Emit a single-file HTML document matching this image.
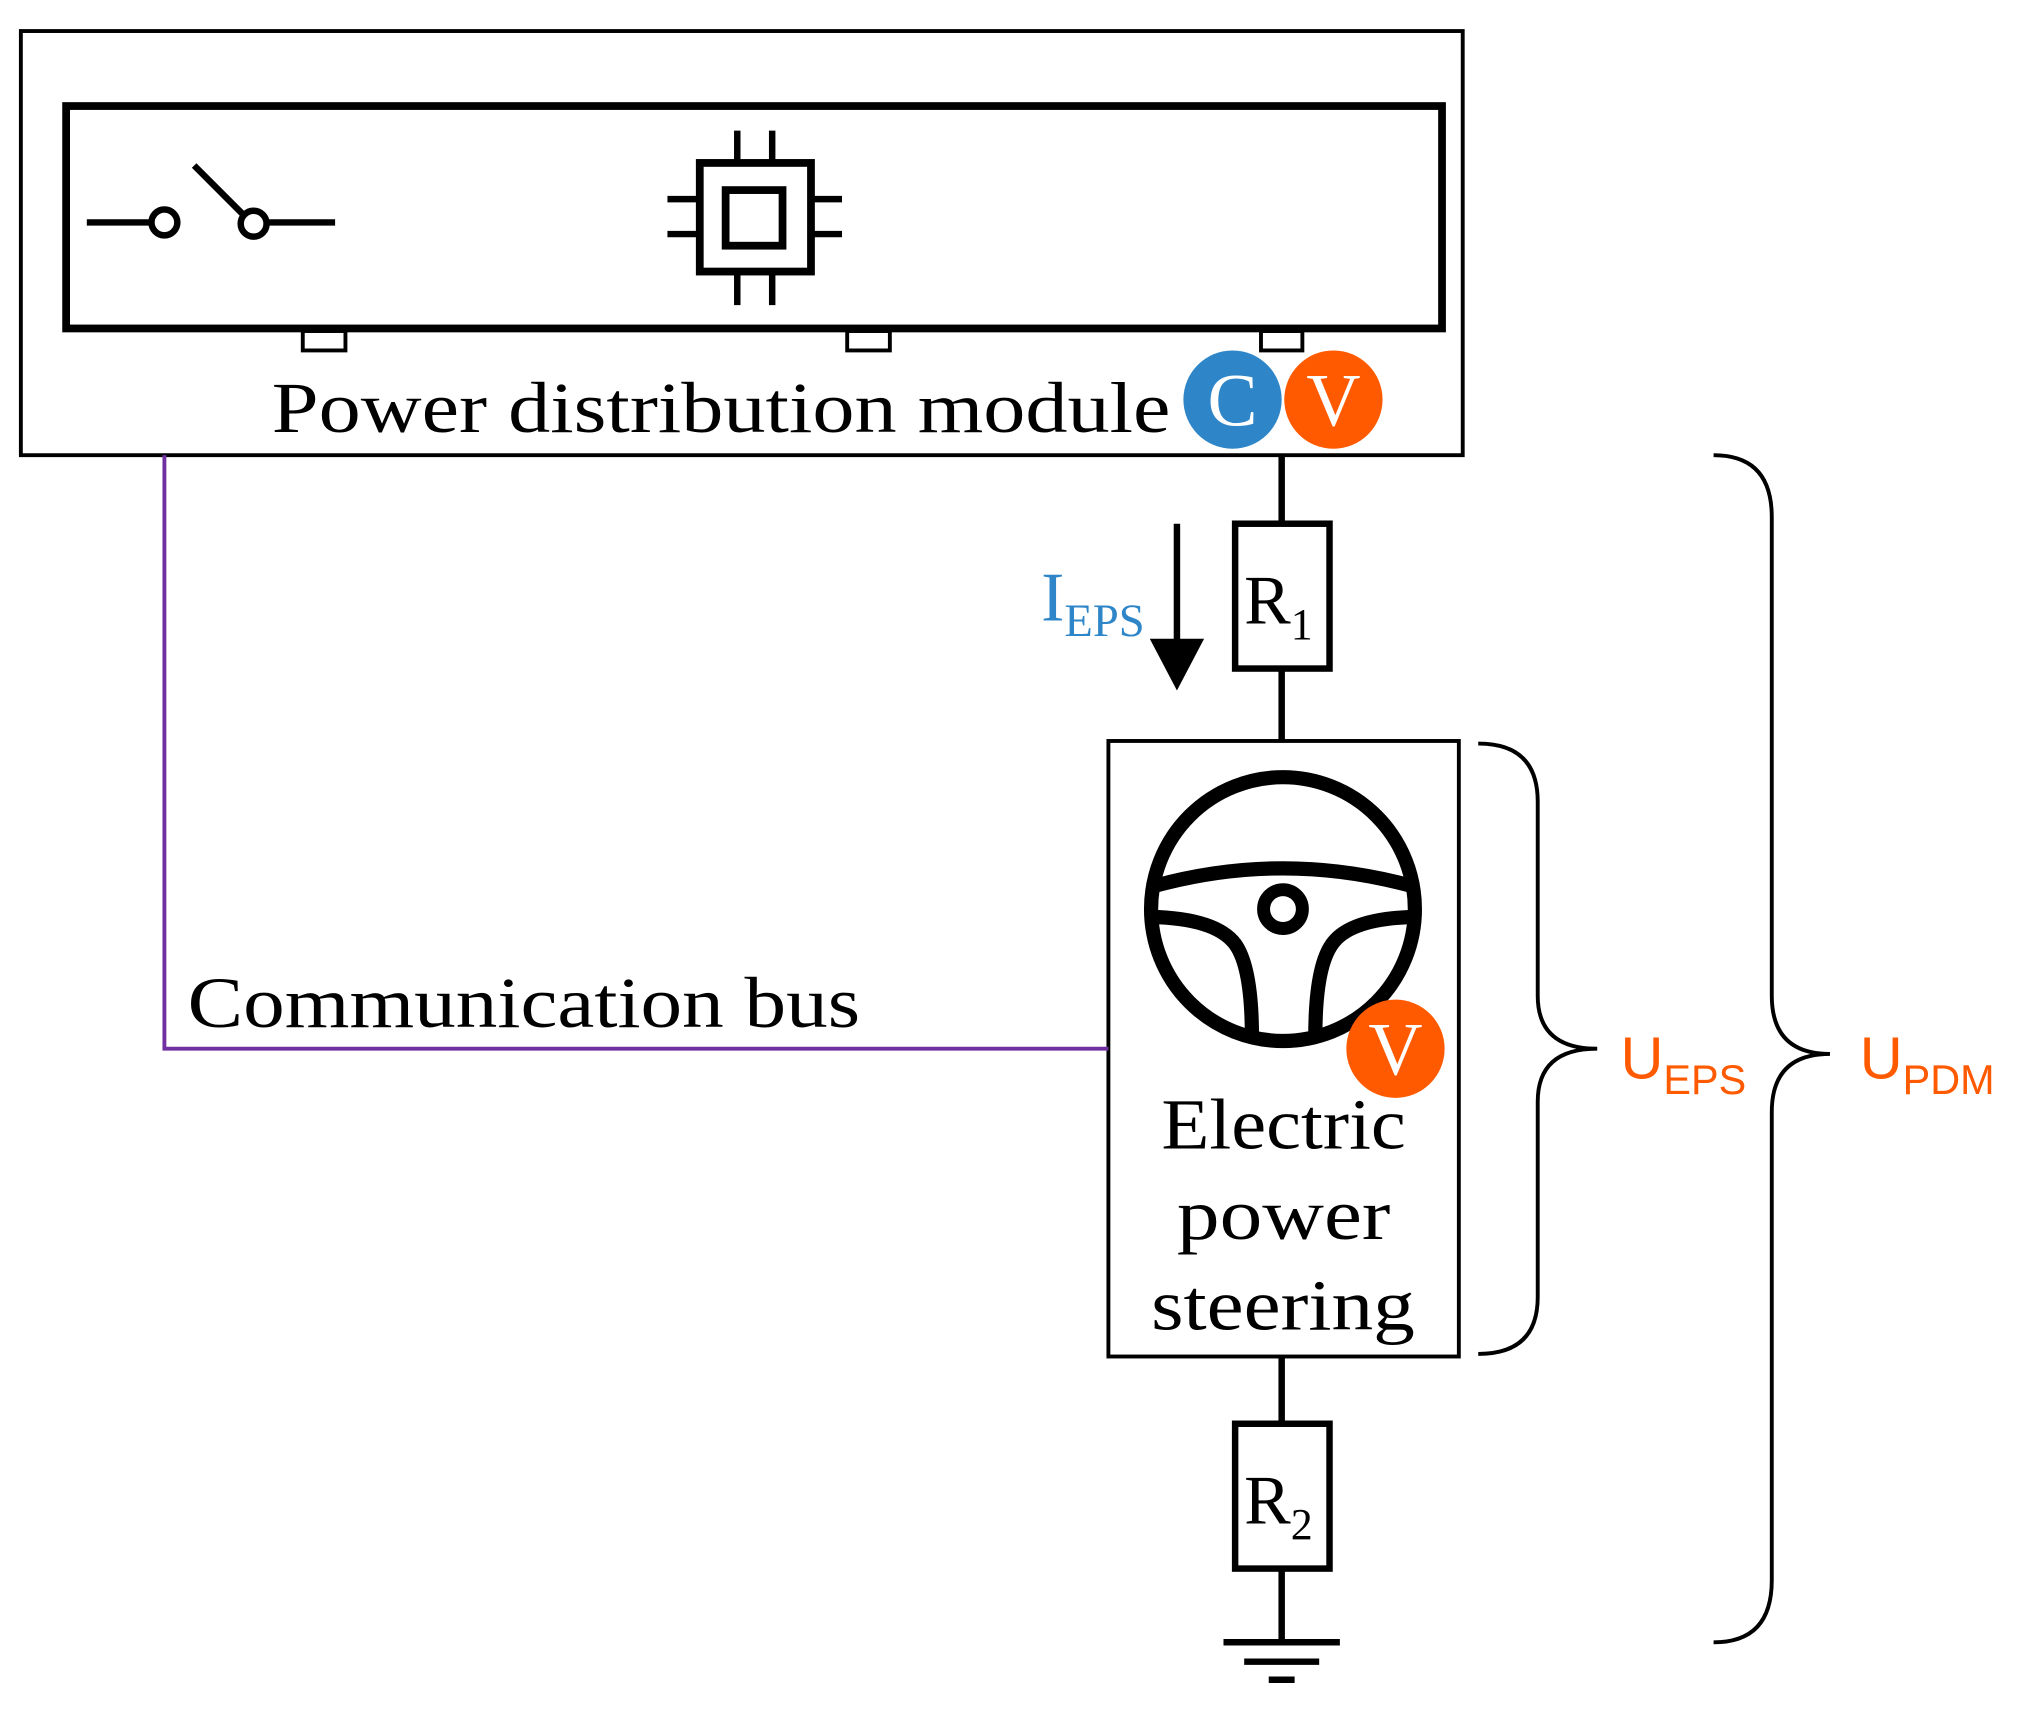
<!DOCTYPE html>
<html><head><style>html,body{margin:0;padding:0;background:#fff}svg{display:block}</style></head><body>
<svg width="2028" height="1716" viewBox="0 0 1568 1327" xmlns="http://www.w3.org/2000/svg">
<g fill="none" stroke="#000">
<rect x="16" y="24" width="1115" height="328" stroke-width="3"/>
<rect x="51" y="82" width="1064" height="172" stroke-width="6"/>
<rect x="234" y="256" width="33" height="15" stroke-width="3"/>
<rect x="655" y="256" width="33" height="15" stroke-width="3"/>
<rect x="975" y="256" width="32" height="15" stroke-width="3"/>
<g stroke-width="5">
<line x1="67" y1="172" x2="117" y2="172"/><circle cx="127" cy="172" r="10"/>
<line x1="150" y1="128" x2="188" y2="166"/><circle cx="196" cy="173" r="10"/>
<line x1="206" y1="172" x2="259" y2="172"/>
<rect x="541" y="126" width="86" height="84" stroke-width="6"/>
<rect x="561" y="147" width="44" height="43" stroke-width="6"/>
<path d="M570 101V126M597 101V126M570 210V236M597 210V236M516 154H541M516 181H541M627 154H651M627 181H651"/>
</g>
<path d="M991 352V405M991 517V573M991 1049V1101M991 1213V1270" stroke-width="5"/>
<rect x="955" y="405" width="73" height="112" stroke-width="5"/>
<rect x="955" y="1101" width="73" height="112" stroke-width="5"/>
<path d="M946 1270H1036M962 1285H1020M981 1299H1001" stroke-width="5"/>
<line x1="910" y1="405" x2="910" y2="500" stroke-width="5"/>
<rect x="857" y="573" width="271" height="476" stroke-width="3"/>
<circle cx="992" cy="703" r="102" stroke-width="11"/>
<path d="M893 685Q992 658 1091 685" stroke-width="11"/>
<path d="M889 709Q940 710 955 730Q968 748 968 802M1095 709Q1044 710 1030 730Q1017 748 1017 802" stroke-width="11"/>
<circle cx="992" cy="703" r="15" stroke-width="10"/>
<path d="M127 352V811H857" stroke="#7030a0" stroke-width="3"/>
<path d="M1143 575Q1189 575 1189 620V770Q1189 811 1235 811Q1189 811 1189 852V1003Q1189 1047 1143 1047" stroke-width="3"/>
<path d="M1325 352Q1370 352 1370 400V770Q1370 815 1415 815Q1370 815 1370 860V1222Q1370 1270 1325 1270" stroke-width="3"/>
</g>
<polygon points="889,494 931,494 910,534" fill="#000"/>
<g font-family="Liberation Serif, serif" fill="#000">
<text x="210" y="334" font-size="56" textLength="695" lengthAdjust="spacingAndGlyphs">Power distribution module</text>
<text x="145" y="794" font-size="56" textLength="520" lengthAdjust="spacingAndGlyphs">Communication bus</text>
<text x="898" y="888" font-size="56" textLength="189" lengthAdjust="spacingAndGlyphs">Electric</text>
<text x="910" y="958" font-size="56" textLength="165" lengthAdjust="spacingAndGlyphs">power</text>
<text x="890" y="1028" font-size="56" textLength="204" lengthAdjust="spacingAndGlyphs">steering</text>
<text x="962" y="482" font-size="54">R<tspan font-size="34" dy="12">1</tspan></text>
<text x="962" y="1178" font-size="54">R<tspan font-size="34" dy="12">2</tspan></text>
<text x="805" y="480" font-size="54" fill="#2e86c8">I<tspan font-size="36" dy="12">EPS</tspan></text>
</g>
<circle cx="953" cy="309" r="38" fill="#2e86c8"/>
<circle cx="1031" cy="309" r="38" fill="#ff5a00"/>
<circle cx="1079" cy="811" r="38" fill="#ff5a00"/>
<g font-family="Liberation Serif, serif" fill="#fff" font-size="58" text-anchor="middle">
<text x="953" y="329">C</text><text x="1031" y="329">V</text><text x="1079" y="831">V</text>
</g>
<g font-family="Liberation Sans, sans-serif" fill="#ff5a00">
<text x="1253" y="834" font-size="46">U<tspan font-size="32" dy="12">EPS</tspan></text>
<text x="1438" y="834" font-size="46">U<tspan font-size="32" dy="12">PDM</tspan></text>
</g>
</svg>
</body></html>
